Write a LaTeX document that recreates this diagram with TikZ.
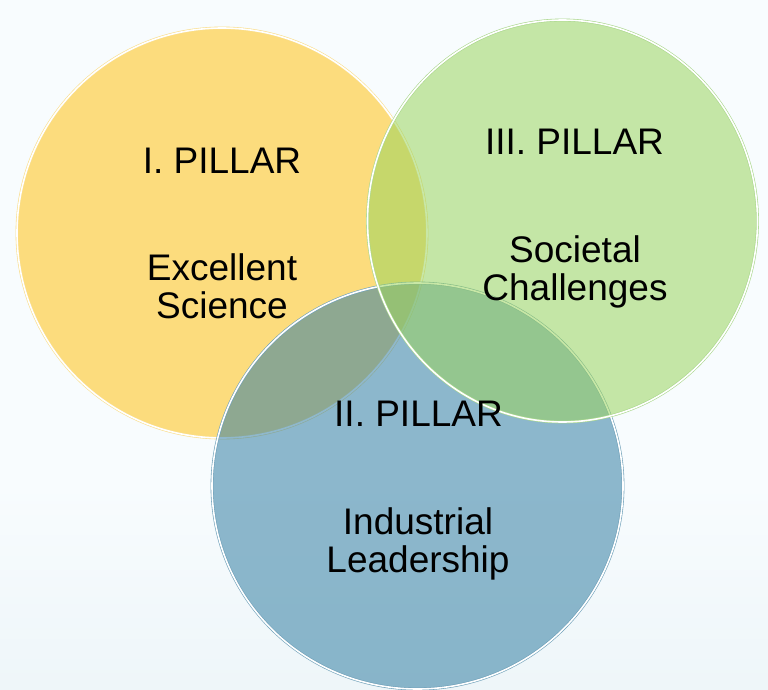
\documentclass[tikz,border=0pt]{standalone}
\usepackage{fontspec}
\setmainfont{Liberation Sans}
\definecolor{bgtop}{RGB}{248,252,254}
\definecolor{bgmid}{RGB}{238,246,249}
\definecolor{bgbot}{RGB}{214,231,239}
\definecolor{ylw}{RGB}{252,220,125}
\definecolor{ylwline}{RGB}{250,222,140}
\definecolor{grn}{RGB}{155,212,94}
\definecolor{grnline}{RGB}{170,215,140}
\definecolor{blu}{RGB}{52,127,163}
\definecolor{bluline}{RGB}{110,160,185}
\pgfdeclareverticalshading{bgshade}{100bp}{color(0bp)=(bgbot); color(25bp)=(bgmid); color(40bp)=(bgtop); color(100bp)=(bgtop)}
\tikzset{
  pillar/.style={font=\fontsize{37}{39}\selectfont, text=black, inner sep=0pt, anchor=base},
  rim/.style={double=white, double distance=1.6pt, line width=0.6pt}
}
\begin{document}
\begin{tikzpicture}[x=1pt,y=-1pt]
\useasboundingbox (0,0) rectangle (768,690);
\shade[shading=bgshade] (0,0) rectangle (768,690);
% circles
\coordinate (cy) at (222,233);
\coordinate (cb) at (417.5,486);
\coordinate (cg) at (562.5,221);
\fill[ylw] (cy) circle[radius=205pt];
\draw[rim, draw=ylwline] (cy) circle[radius=205pt];
\fill[blu, fill opacity=0.55] (cb) ellipse[x radius=205.5pt, y radius=203pt];
\draw[rim, draw=bluline] (cb) ellipse[x radius=205.5pt, y radius=203pt];
\fill[grn, fill opacity=0.55] (cg) ellipse[x radius=195pt, y radius=201pt];
\draw[rim, draw=grnline] (cg) ellipse[x radius=195pt, y radius=201pt];
% texts
\node[pillar] (p1) at (222,173) {I. PILLAR};
\node[pillar] (p1a) at (222,280) {Excellent};
\node[pillar] (p1b) at (222,318) {Science};
\node[pillar] (p3) at (574.5,154) {III. PILLAR};
\node[pillar] (p3a) at (575,262) {Societal};
\node[pillar] (p3b) at (575,300) {Challenges};
\node[pillar] (p2) at (418.5,426) {II. PILLAR};
\node[pillar] (p2a) at (418,534) {Industrial};
\node[pillar] (p2b) at (418,572) {Leadership};
\end{tikzpicture}
\end{document}
